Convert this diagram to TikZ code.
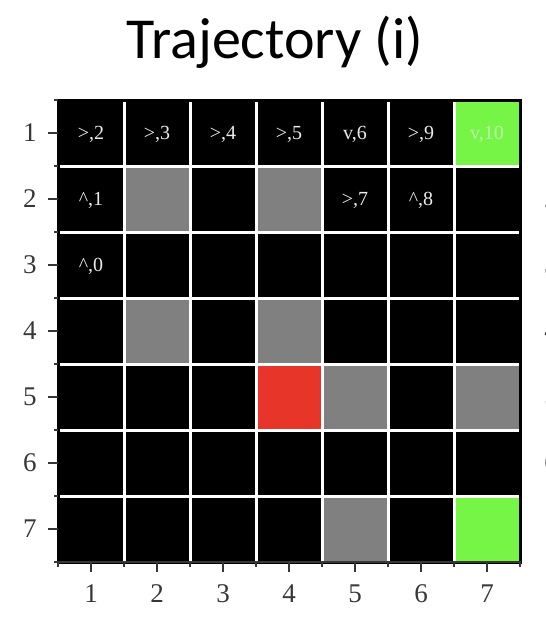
\documentclass[tikz,border=0pt]{standalone}
\usepackage{fontspec}
\setmainfont{Liberation Serif}
\newfontfamily\titlefont{Carlito}
\usetikzlibrary{positioning}
\definecolor{goalgreen}{RGB}{119,245,71}
\definecolor{wallgray}{RGB}{128,128,128}
\definecolor{agentred}{RGB}{232,53,42}
\definecolor{labelgreen}{RGB}{190,248,170}
\definecolor{axisgray}{RGB}{55,55,55}

\begin{document}
\begin{tikzpicture}[
    x=1pt, y=-1pt,
    cell/.style={draw=white, line width=3pt, fill=black, minimum size=66pt, inner sep=0pt},
    wall/.style={cell, fill=wallgray},
    goal/.style={cell, fill=goalgreen},
    agent/.style={cell, fill=agentred},
    celltext/.style={text=white!92!black, font=\fontsize{20}{20}\selectfont, inner sep=0pt},
    ticklabel/.style={text=axisgray, font=\fontsize{27}{27}\selectfont},
    tick/.style={draw=axisgray, line width=1.8pt}
]
\useasboundingbox (0,0) rectangle (546,624);

\node[font=\titlefont\fontsize{58}{58}\selectfont, anchor=base] (title) at (275,58) {Trajectory (i)};

% grid cells
\foreach \r in {1,...,7}
    \foreach \c in {1,...,7}
        \node[cell] (c\r\c) at ({58+66*(\c-0.5)}, {100+66*(\r-0.5)}) {};

\foreach \r/\c in {2/2, 2/4, 4/2, 4/4, 5/5, 5/7, 7/5}
    \node[wall] (w\r\c) at (c\r\c) {};
\foreach \r/\c in {1/7, 7/7}
    \node[goal] (g\r\c) at (c\r\c) {};
\node[agent] (a54) at (c54) {};

\draw[line width=3pt] (58,100) rectangle (520,562);

% trajectory labels
\foreach \r/\c/\t in {1/1/{>,2}, 1/2/{>,3}, 1/3/{>,4}, 1/4/{>,5}, 1/5/{v,6}, 1/6/{>,9},
                      2/1/{\textasciicircum,1}, 2/5/{>,7}, 2/6/{\textasciicircum,8},
                      3/1/{\textasciicircum,0}}
    \node[celltext] (t\r\c) at ([yshift=-1pt]c\r\c) {\t};
\node[celltext, text=labelgreen] (t17) at ([yshift=-1pt]c17) {v,10};

% axes
\foreach \k in {0,...,7}
    \draw[tick] (58,{100+66*\k}) -- (54,{100+66*\k});
\foreach \r in {1,...,7} {
    \draw[tick] (58,{100+66*(\r-0.5)}) -- (48,{100+66*(\r-0.5)});
    \node[ticklabel] (y\r) at (30,{100+66*(\r-0.5)}) {\r};
}
\draw[tick] (57,562) -- (521,562);
\foreach \k in {0,...,7}
    \draw[tick] ({58+66*\k},562) -- ({58+66*\k},567);
\foreach \c in {1,...,7} {
    \draw[tick] ({58+66*(\c-0.5)},562) -- ({58+66*(\c-0.5)},572);
    \node[ticklabel] (x\c) at ({58+66*(\c-0.5)},594) {\c};
}

% cut-off labels of the next panel
\begin{scope}
    \clip (541,0) rectangle (546,624);
    \foreach \r in {2,...,7}
        \node[ticklabel] (z\r) at (551,{100+66*(\r-0.5)}) {\r};
\end{scope}
\end{tikzpicture}
\end{document}
